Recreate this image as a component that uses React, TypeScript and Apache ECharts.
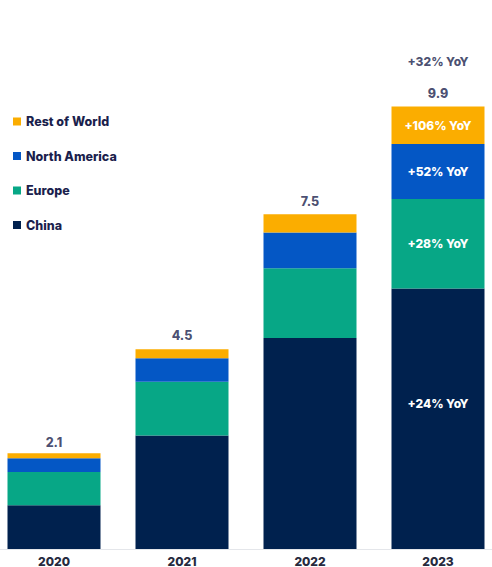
import React, { useEffect, useRef } from "react";
import * as echarts from "echarts";

const years = ["2020", "2021", "2022", "2023"];
const china = [0.98, 2.54, 4.72, 5.83];
const europe = [0.74, 1.2, 1.56, 2.0];
const northAmerica = [0.31, 0.53, 0.8, 1.23];
const restOfWorld = [0.11, 0.2, 0.41, 0.84];
const totals = [2.1, 4.5, 7.5, 9.9];
const totalLabels = ["2.1", "4.5", "7.5", "9.9"];
const totalYoY = ["", "", "", "+32% YoY"];
const yoyChina = ["", "", "", "+24% YoY"];
const yoyEurope = ["", "", "", "+28% YoY"];
const yoyNorthAmerica = ["", "", "", "+52% YoY"];
const yoyRestOfWorld = ["", "", "", "+106% YoY"];

const FONT = "Inter, 'Open Sans', sans-serif";
const TEXT = "#1b1f4d";

export default function App() {
  const ref = useRef<HTMLDivElement>(null);
  useEffect(() => {
    if (!ref.current) return;
    const chart = echarts.init(ref.current, null, { renderer: "svg" });
    const mk = (
      name: string,
      vals: number[],
      yoy: string[],
      color: string,
      offset: number[] = [0, 0]
    ) => ({
      name,
      type: "bar",
      stack: "s",
      barWidth: 93,
      itemStyle: { color },
      data: vals.map((v, i) =>
        yoy[i]
          ? {
              value: v,
              label: {
                show: true,
                position: "inside",
                offset,
                formatter: yoy[i],
                color: "#ffffff",
                fontWeight: 800,
                fontSize: 12,
                fontFamily: FONT,
              },
            }
          : v
      ),
    });
    chart.setOption({
      animation: false,
      grid: { left: 0, right: 0, top: 102, bottom: 17 },
      legend: {
        orient: "vertical",
        left: 18,
        top: 110,
        itemGap: 21.5,
        itemWidth: 8,
        itemHeight: 8,
        icon: "rect",
        data: ["Rest of World", "North America", "Europe", "China"],
        textStyle: { color: TEXT, fontWeight: 800, fontSize: 12.5, fontFamily: FONT },
      },
      xAxis: {
        type: "category",
        data: years,
        axisTick: { show: false },
        axisLine: { lineStyle: { color: "#e4e6ea", width: 1 } },
        axisLabel: { color: "#262a3e", fontWeight: 800, fontSize: 12, fontFamily: FONT, margin: 6 },
      },
      yAxis: { type: "value", min: 0, max: 10, show: false, splitLine: { show: false } },
      series: [
        mk("China", china, yoyChina, "#00214e", [0, -15]),
        mk("Europe", europe, yoyEurope, "#07a786"),
        mk("North America", northAmerica, yoyNorthAmerica, "#0457c5"),
        mk("Rest of World", restOfWorld, yoyRestOfWorld, "#fbad00"),
        {
          name: "Total",
          type: "scatter",
          symbolSize: 0,
          silent: true,
          data: totals.map((t, i) => ({
            value: t,
            label: {
              show: true,
              position: "top",
              distance: 6,
              formatter: totalYoY[i]
                ? `{y|${totalYoY[i]}}\n{t|${totalLabels[i]}}`
                : `{t|${totalLabels[i]}}`,
              rich: {
                y: { color: TEXT, fontWeight: 800, fontSize: 12, fontFamily: FONT, padding: [0, 0, 20, 0] },
                t: { color: TEXT, fontWeight: 800, fontSize: 12.5, fontFamily: FONT },
              },
            },
          })),
        },
      ],
    });
    return () => chart.dispose();
  }, []);
  return (
    <div
      ref={ref}
      style={{ position: "fixed", left: -10.5, top: 0, width: 512, height: 567, background: "#fff" }}
    />
  );
}
